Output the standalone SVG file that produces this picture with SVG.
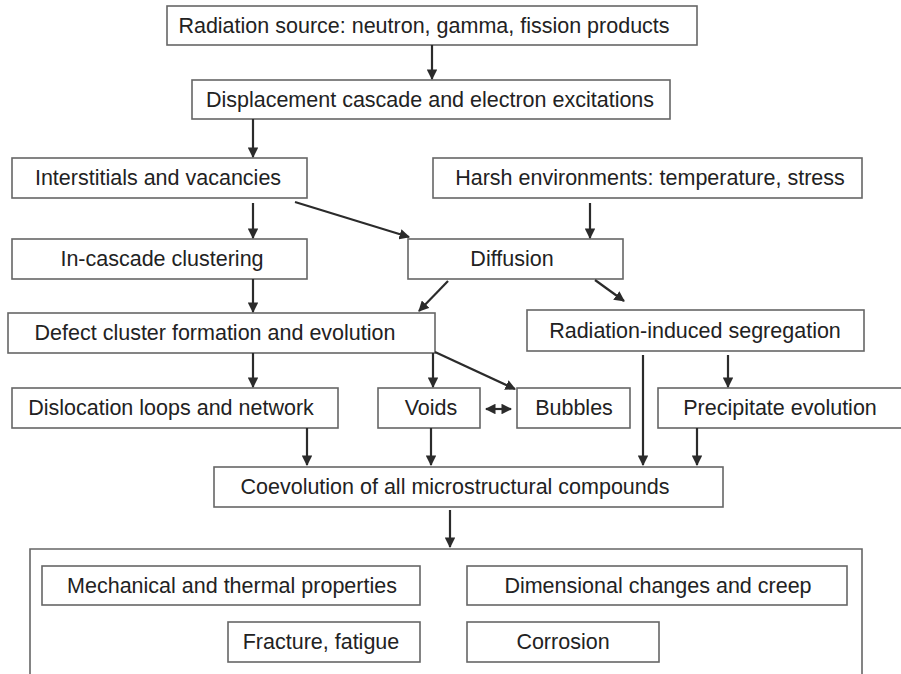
<svg xmlns="http://www.w3.org/2000/svg" width="901" height="674" viewBox="0 0 901 674">
  <style>
    .box { fill: #ffffff; stroke: #666666; stroke-width: 1.6; }
    .lbl { font-family: "Liberation Sans", Arial, sans-serif; font-size: 21.5px; fill: #222222; text-anchor: middle; dominant-baseline: central; }
    .link { stroke: #2b2b2b; stroke-width: 2.2; fill: none; }
  </style>
  <defs>
    <marker id="head" viewBox="0 0 10 10" refX="9" refY="5" markerWidth="4.8" markerHeight="4.8" orient="auto" markerUnits="strokeWidth">
      <path d="M0,0 L10,5 L0,10 Z" fill="#2b2b2b"/>
    </marker>
    <marker id="tail" viewBox="0 0 10 10" refX="1" refY="5" markerWidth="4.8" markerHeight="4.8" orient="auto" markerUnits="strokeWidth">
      <path d="M10,0 L0,5 L10,10 Z" fill="#2b2b2b"/>
    </marker>
  </defs>
  <rect width="901" height="674" fill="#ffffff"/>

  <!-- outer frame around the property effects -->
  <g id="effects-frame">
    <path d="M30,676 L30,549 L862,549 L862,676" class="box" fill="none"/>
  </g>

  <g id="radiation-source">
    <rect class="box" x="167" y="6" width="530" height="39"/>
    <text class="lbl" x="424" y="26">Radiation source: neutron, gamma, fission products</text>
  </g>
  <g id="displacement-cascade">
    <rect class="box" x="192" y="80" width="478" height="39"/>
    <text class="lbl" x="430" y="100">Displacement cascade and electron excitations</text>
  </g>
  <g id="interstitials">
    <rect class="box" x="12" y="158" width="295" height="40"/>
    <text class="lbl" x="158" y="178">Interstitials and vacancies</text>
  </g>
  <g id="harsh-env">
    <rect class="box" x="433" y="158" width="429" height="40"/>
    <text class="lbl" x="650" y="178">Harsh environments: temperature, stress</text>
  </g>
  <g id="in-cascade">
    <rect class="box" x="12" y="239" width="295" height="40"/>
    <text class="lbl" x="162" y="259">In-cascade clustering</text>
  </g>
  <g id="diffusion">
    <rect class="box" x="408" y="239" width="215" height="40"/>
    <text class="lbl" x="512" y="259">Diffusion</text>
  </g>
  <g id="defect-cluster">
    <rect class="box" x="8" y="313" width="427" height="40"/>
    <text class="lbl" x="215" y="333">Defect cluster formation and evolution</text>
  </g>
  <g id="ris">
    <rect class="box" x="527" y="310" width="337" height="41"/>
    <text class="lbl" x="695" y="331">Radiation-induced segregation</text>
  </g>
  <g id="dislocation">
    <rect class="box" x="12" y="388" width="326" height="40"/>
    <text class="lbl" x="171" y="408">Dislocation loops and network</text>
  </g>
  <g id="voids">
    <rect class="box" x="378" y="388" width="102" height="40"/>
    <text class="lbl" x="431" y="408">Voids</text>
  </g>
  <g id="bubbles">
    <rect class="box" x="517" y="388" width="113" height="40"/>
    <text class="lbl" x="574" y="408">Bubbles</text>
  </g>
  <g id="precipitate">
    <rect class="box" x="658" y="388" width="260" height="40"/>
    <text class="lbl" x="780" y="408">Precipitate evolution</text>
  </g>
  <g id="coevolution">
    <rect class="box" x="214" y="467" width="509" height="40"/>
    <text class="lbl" x="455" y="487">Coevolution of all microstructural compounds</text>
  </g>
  <g id="mechanical">
    <rect class="box" x="42" y="566" width="378" height="39"/>
    <text class="lbl" x="232" y="586">Mechanical and thermal properties</text>
  </g>
  <g id="dimensional">
    <rect class="box" x="467" y="566" width="380" height="39"/>
    <text class="lbl" x="658" y="586">Dimensional changes and creep</text>
  </g>
  <g id="fracture">
    <rect class="box" x="228" y="622" width="192" height="40"/>
    <text class="lbl" x="321" y="642">Fracture, fatigue</text>
  </g>
  <g id="corrosion">
    <rect class="box" x="467" y="622" width="192" height="40"/>
    <text class="lbl" x="563" y="642">Corrosion</text>
  </g>

  <g id="connectors">
    <line class="link" x1="432" y1="45" x2="432" y2="79" marker-end="url(#head)"/>
    <line class="link" x1="253" y1="119" x2="253" y2="157" marker-end="url(#head)"/>
    <line class="link" x1="253" y1="203" x2="253" y2="238" marker-end="url(#head)"/>
    <line class="link" x1="295" y1="202" x2="409" y2="237" marker-end="url(#head)"/>
    <line class="link" x1="590" y1="203" x2="590" y2="238" marker-end="url(#head)"/>
    <line class="link" x1="253" y1="279" x2="253" y2="312" marker-end="url(#head)"/>
    <line class="link" x1="448" y1="281" x2="419" y2="311" marker-end="url(#head)"/>
    <line class="link" x1="595" y1="280" x2="624" y2="301" marker-end="url(#head)"/>
    <line class="link" x1="253" y1="353" x2="253" y2="387" marker-end="url(#head)"/>
    <line class="link" x1="433" y1="353" x2="433" y2="387" marker-end="url(#head)"/>
    <line class="link" x1="435" y1="352" x2="515" y2="389" marker-end="url(#head)"/>
    <line class="link" x1="486" y1="409" x2="511" y2="409" marker-start="url(#tail)" marker-end="url(#head)"/>
    <line class="link" x1="728" y1="355" x2="728" y2="387" marker-end="url(#head)"/>
    <line class="link" x1="643" y1="355" x2="643" y2="465" marker-end="url(#head)"/>
    <line class="link" x1="307" y1="428" x2="307" y2="465" marker-end="url(#head)"/>
    <line class="link" x1="431" y1="428" x2="431" y2="465" marker-end="url(#head)"/>
    <line class="link" x1="697" y1="428" x2="697" y2="465" marker-end="url(#head)"/>
    <line class="link" x1="450" y1="510" x2="450" y2="547" marker-end="url(#head)"/>
  </g>
</svg>
